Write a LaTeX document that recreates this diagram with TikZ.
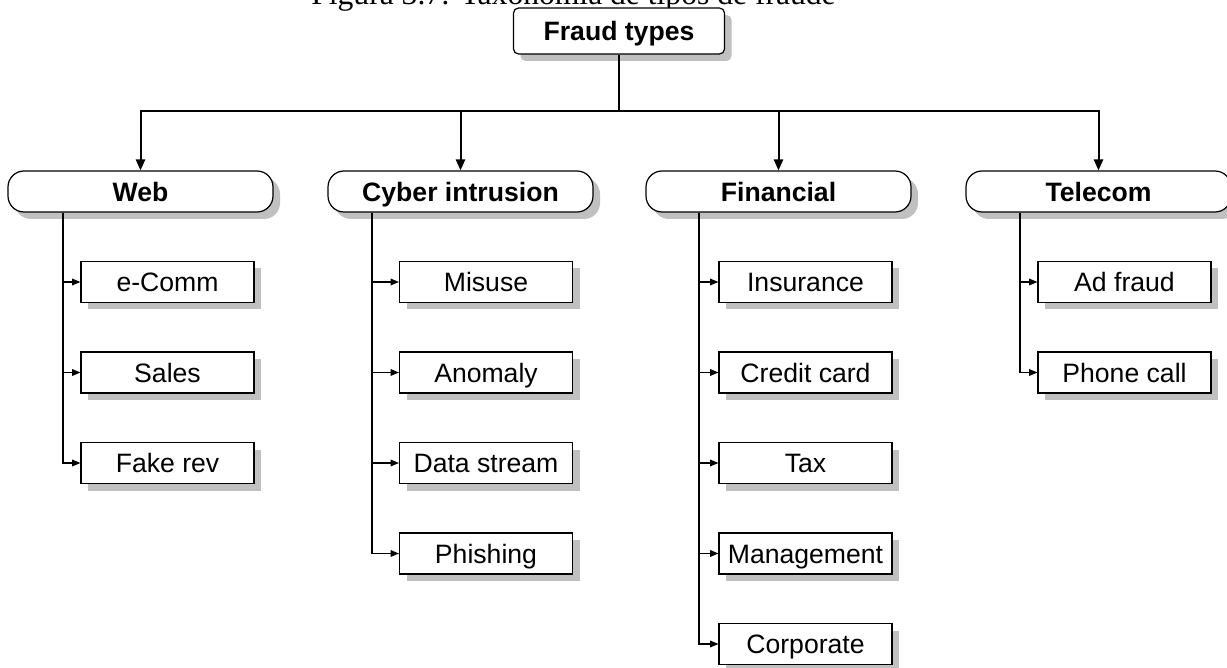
\documentclass[tikz,border=0pt]{standalone}
\usepackage{fontspec}
\setmainfont{Liberation Sans}
\newfontfamily\capfont{Liberation Serif}
\usetikzlibrary{shadows,arrows.meta}

\definecolor{shade}{HTML}{C0C0C0}

\tikzset{
  boxbase/.style={draw=black, line width=0.6pt, fill=white, inner sep=0pt,
    text=black, font=\fontsize{13.3}{16}\selectfont,
    text height=9.6pt, text depth=0pt,
    drop shadow={shadow xshift=3.5pt, shadow yshift=-3.5pt, fill=shade, opacity=1}},
  rootbox/.style={boxbase, rounded corners=2.5pt, minimum width=105.5pt,
    minimum height=23pt, font=\fontsize{13.3}{16}\selectfont\bfseries},
  groupbox/.style={boxbase, rounded corners=8pt, minimum width=132.5pt,
    minimum height=20.5pt, font=\fontsize{13.3}{16}\selectfont\bfseries,
    drop shadow={shadow xshift=3pt, shadow yshift=-3pt, fill=shade, opacity=1}},
  leafbox/.style={boxbase, minimum width=86.5pt, minimum height=20.5pt},
  busline/.style={line width=1pt, draw=black},
  busarrow/.style={busline, -{Triangle[length=5.5pt,width=4.6pt]}},
  leafarrow/.style={line width=0.55pt, draw=black, -{Triangle[length=4.2pt,width=3.4pt]}},
}

\begin{document}
\begin{tikzpicture}[x=0.5pt, y=-0.5pt]
  \useasboundingbox (0,0) rectangle (1227,668);

  % caption, mostly above the frame
  \begin{scope}
    \clip (0,0) rectangle (1227,668);
    \node[anchor=base, inner sep=0pt, font=\capfont\fontsize{15.8}{18}\selectfont]
      (caption) at (573.5,5) {Figura 3.7: Taxonomia de tipos de fraude};
  \end{scope}

  % root
  \node[rootbox] (root) at (619,31) {Fraud types};

  % groups
  \node[groupbox] (web) at (140.5,191.5) {Web};
  \node[groupbox] (cyber) at (460.5,191.5) {Cyber intrusion};
  \node[groupbox] (fin) at (778.5,191.5) {Financial};
  \node[groupbox] (tel) at (1098.5,191.5) {Telecom};

  % bus from root to groups
  \coordinate (hub) at (619,111);
  \draw[busline] (root.south) -- (hub);
  \foreach \g in {web,cyber,fin,tel}
    \draw[busarrow] (hub) -| (\g.north);

  % Web leaves
  \node[leafbox] (ecomm) at (167.5,282) {e-Comm};
  \node[leafbox] (sales) at (167.5,372.5) {Sales};
  \node[leafbox] (fakerev) at (167.5,463) {Fake rev};

  % Cyber intrusion leaves
  \node[leafbox] (misuse) at (486,282) {Misuse};
  \node[leafbox] (anomaly) at (486,372.5) {Anomaly};
  \node[leafbox] (datastream) at (486,463) {Data stream};
  \node[leafbox] (phishing) at (486,553.5) {Phishing};

  % Financial leaves
  \node[leafbox] (insurance) at (805.5,282) {Insurance};
  \node[leafbox] (creditcard) at (805.5,372.5) {Credit card};
  \node[leafbox] (tax) at (805.5,463) {Tax};
  \node[leafbox] (management) at (805.5,553.5) {Management};
  \node[leafbox] (corporate) at (805.5,644) {Corporate};

  % Telecom leaves
  \node[leafbox] (adfraud) at (1124.5,282) {Ad fraud};
  \node[leafbox] (phonecall) at (1124.5,372.5) {Phone call};

  % trunks under each group
  \coordinate (webtrunk) at (web.south -| 63,0);
  \coordinate (cybertrunk) at (cyber.south -| 372,0);
  \coordinate (fintrunk) at (fin.south -| 699,0);
  \coordinate (teltrunk) at (tel.south -| 1020,0);

  \foreach \leaf in {ecomm,sales,fakerev}
    \draw[leafarrow] (webtrunk) |- (\leaf.west);
  \foreach \leaf in {misuse,anomaly,datastream,phishing}
    \draw[leafarrow] (cybertrunk) |- (\leaf.west);
  \foreach \leaf in {insurance,creditcard,tax,management,corporate}
    \draw[leafarrow] (fintrunk) |- (\leaf.west);
  \foreach \leaf in {adfraud,phonecall}
    \draw[leafarrow] (teltrunk) |- (\leaf.west);
\end{tikzpicture}
\end{document}
